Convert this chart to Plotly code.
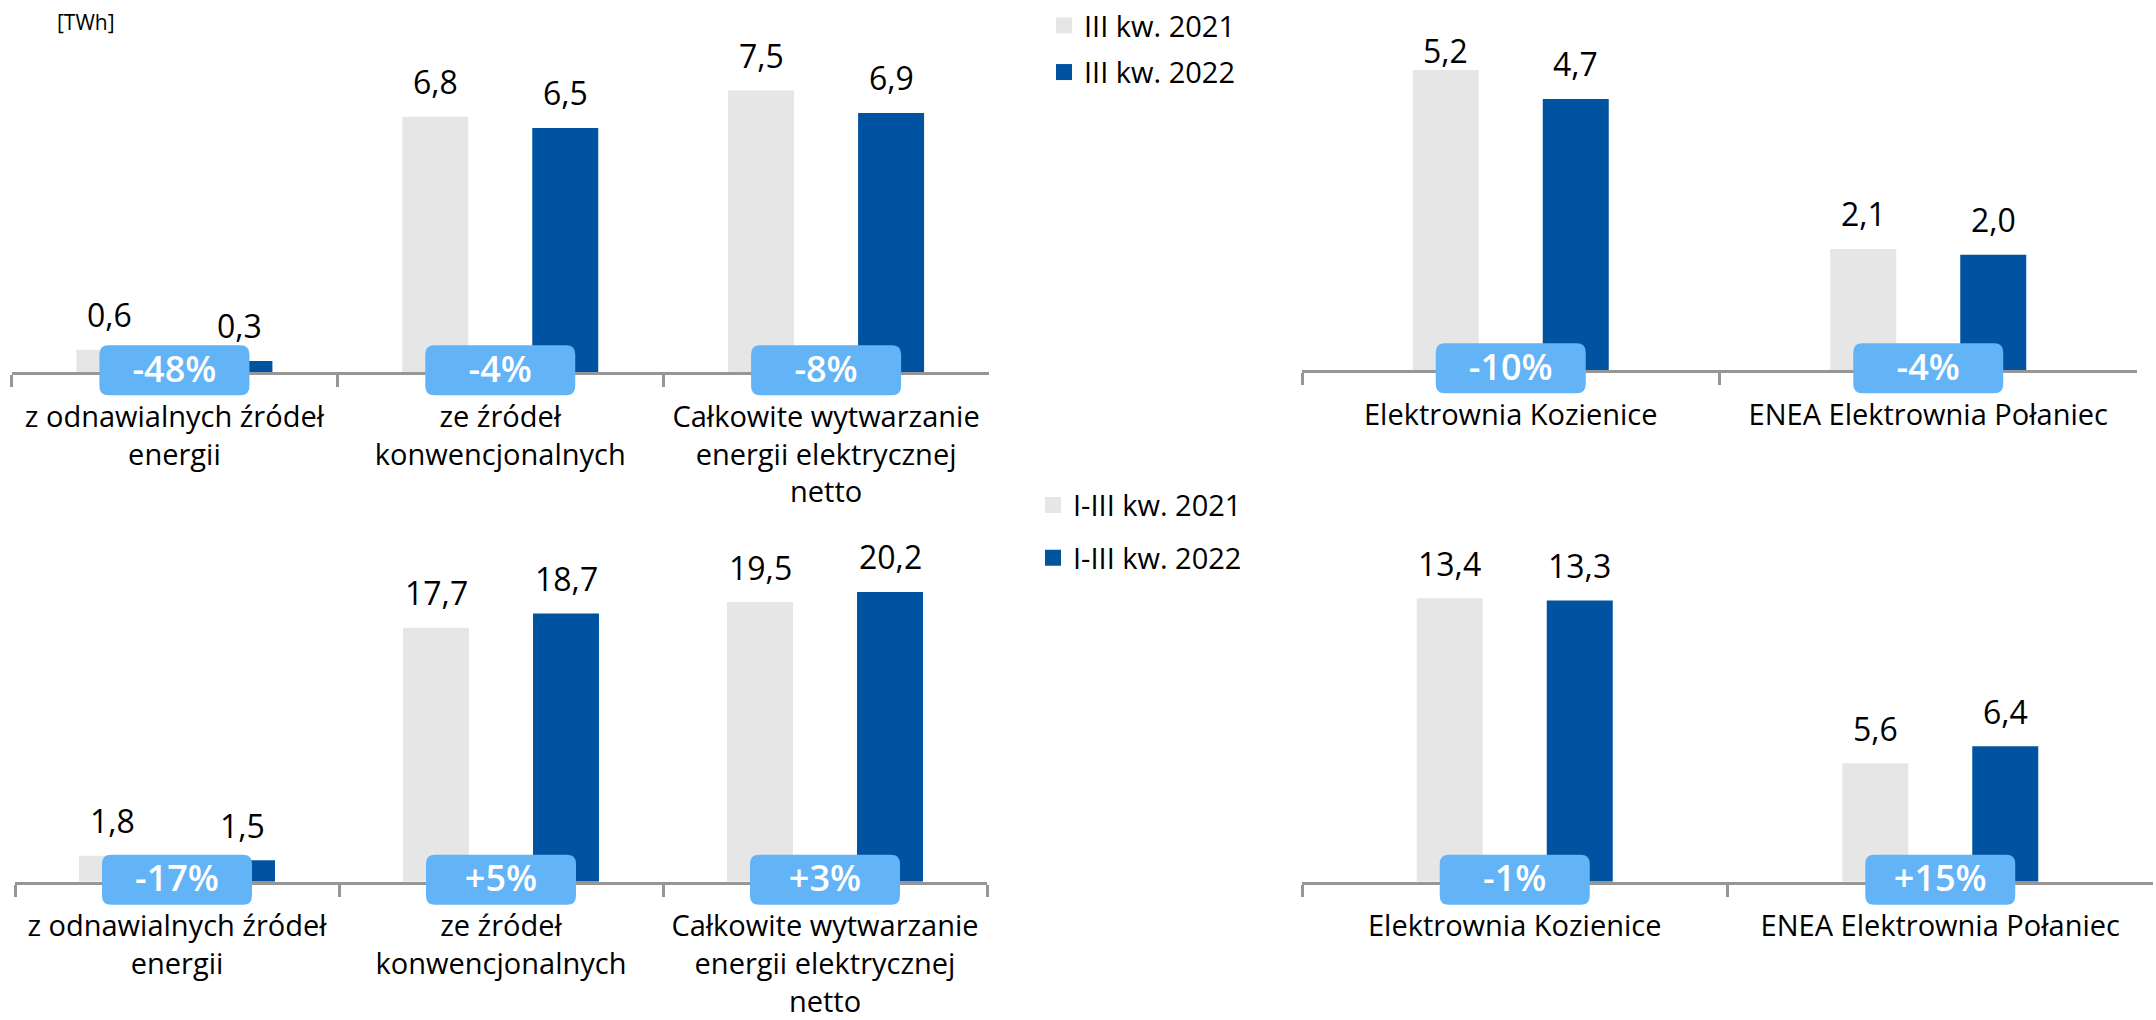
import plotly.graph_objects as go

# ------------------------------------------------------------------ data
cats_gen = [
    "z odnawialnych źródeł<br>energii",
    "ze źródeł<br>konwencjonalnych",
    "Całkowite wytwarzanie<br>energii elektrycznej<br>netto",
]
cats_plant = ["Elektrownia Kozienice", "ENEA Elektrownia Połaniec"]

q3_2021_gen = [0.6, 6.8, 7.5]
q3_2022_gen = [0.3, 6.5, 6.9]
q3_change_gen = ["-48%", "-4%", "-8%"]

q3_2021_plant = [5.2, 2.1]
q3_2022_plant = [4.7, 2.0]
q3_change_plant = ["-10%", "-4%"]

ytd_2021_gen = [1.8, 17.7, 19.5]
ytd_2022_gen = [1.5, 18.7, 20.2]
ytd_change_gen = ["-17%", "+5%", "+3%"]

ytd_2021_plant = [13.4, 5.6]
ytd_2022_plant = [13.3, 6.4]
ytd_change_plant = ["-1%", "+15%"]

names_q3 = ["III kw. 2021", "III kw. 2022"]
names_ytd = ["I-III kw. 2021", "I-III kw. 2022"]
unit_label = "[TWh]"

# ------------------------------------------------------------------ style
W, H = 2156, 1020
FONT = "Open Sans"
C_LIGHT = "#E6E6E6"
C_DARK = "#0053A0"
C_BOX = "#63B3F7"
C_AXIS = "#969696"
BAR_PX = 66          # bar width in pixels
HALF_GAP_PX = 32     # half of the gap between the two bars of a category
LABEL_RISE_PX = 35   # distance bar top -> centre of value label
BOX_W, BOX_H, BOX_R = 150, 50, 9

panels = [
    dict(ax="", cats=cats_gen, a=q3_2021_gen, b=q3_2022_gen, chg=q3_change_gen,
         names=names_q3, legend="legend", x0=11.5, x1=989, base=374, top=0,
         ppu=37.75, label_min=51),
    dict(ax="2", cats=cats_plant, a=q3_2021_plant, b=q3_2022_plant, chg=q3_change_plant,
         names=None, legend="legend", x0=1302, x1=2137, base=372, top=0,
         ppu=58.0, label_min=51),
    dict(ax="3", cats=cats_gen, a=ytd_2021_gen, b=ytd_2022_gen, chg=ytd_change_gen,
         names=names_ytd, legend="legend2", x0=15, x1=987, base=886, top=500,
         ppu=14.41, label_min=551),
    dict(ax="4", cats=cats_plant, a=ytd_2021_plant, b=ytd_2022_plant, chg=ytd_change_plant,
         names=None, legend="legend2", x0=1302, x1=2153, base=886, top=500,
         ppu=21.25, label_min=551),
]


def fmt(v):
    return f"{v:.1f}".replace(".", ",")


def rrect(w, h, r, dy=0):
    hw, hh = w / 2, h / 2
    y0, y1 = -hh + dy, hh + dy
    return (f"M{-hw + r},{y0} L{hw - r},{y0} Q{hw},{y0} {hw},{y0 + r} "
            f"L{hw},{y1 - r} Q{hw},{y1} {hw - r},{y1} L{-hw + r},{y1} "
            f"Q{-hw},{y1} {-hw},{y1 - r} L{-hw},{y0 + r} Q{-hw},{y0} {-hw + r},{y0} Z")


fig = go.Figure()
layout = {}
annotations = []
shapes = []

for p in panels:
    ax = p["ax"]
    xr, yr = "x" + ax, "y" + ax
    n = len(p["cats"])
    catpx = (p["x1"] - p["x0"]) / n
    bw = BAR_PX / catpx
    gap = HALF_GAP_PX / catpx

    for vals, col, off, sign in ((p["a"], C_LIGHT, -gap - bw, -1), (p["b"], C_DARK, gap, 1)):
        fig.add_trace(go.Bar(
            x=p["cats"], y=vals, xaxis=xr, yaxis=yr, width=bw, offset=off,
            marker=dict(color=col, line=dict(width=0)), showlegend=False,
            hovertemplate="%{y}<extra></extra>"))
        for i, v in enumerate(vals):
            top_px = p["base"] - v * p["ppu"]
            center_px = max(top_px - LABEL_RISE_PX, p["label_min"])
            annotations.append(dict(
                x=i + sign * (gap + bw / 2), y=v, xref=xr, yref=yr, text=fmt(v),
                showarrow=False, xanchor="center", yanchor="middle",
                yshift=top_px - center_px,
                font=dict(family=FONT, size=32, color="black")))

    if p["names"]:
        for nm, col in zip(p["names"], (C_LIGHT, C_DARK)):
            fig.add_trace(go.Scatter(
                x=[None], y=[None], xaxis=xr, yaxis=yr, mode="markers", name=nm,
                legend=p["legend"], legendgroup=nm,
                marker=dict(symbol="square", size=18, color=col)))

    base_paper = 1 - p["base"] / H
    for i, t in enumerate(p["chg"]):
        shapes.append(dict(
            type="path", xref=xr, yref="paper", xsizemode="pixel", ysizemode="pixel",
            xanchor=i, yanchor=base_paper, path=rrect(BOX_W, BOX_H, BOX_R, 2),
            fillcolor=C_BOX, line=dict(width=0), layer="above",
            label=dict(text=t, textposition="middle center",
                       font=dict(family=FONT, size=36, color="white", weight=600))))

    layout["xaxis" + ax] = dict(
        domain=[p["x0"] / W, p["x1"] / W], anchor=yr, type="category",
        range=[-0.5, n - 0.5], showline=True, linecolor=C_AXIS, linewidth=3,
        ticks="outside", tickson="boundaries", ticklen=12, tickwidth=2.5,
        tickcolor=C_AXIS, showgrid=False, zeroline=False, fixedrange=True,
        tickfont=dict(family=FONT, size=29, color="black"), ticklabelstandoff=17)
    layout["yaxis" + ax] = dict(
        domain=[1 - p["base"] / H, 1 - p["top"] / H], anchor=xr,
        range=[0, (p["base"] - p["top"]) / p["ppu"]], visible=False, fixedrange=True)

annotations.append(dict(
    x=86 / W, y=1 - 22 / H, xref="paper", yref="paper", text=unit_label,
    showarrow=False, xanchor="center", yanchor="middle",
    font=dict(family=FONT, size=21, color="black")))

legend_common = dict(xanchor="left", yanchor="top", bgcolor="rgba(0,0,0,0)",
                     font=dict(family=FONT, size=29, color="black"),
                     itemclick=False, itemdoubleclick=False, traceorder="grouped")

fig.update_layout(
    width=W, height=H, margin=dict(l=0, r=0, t=0, b=0),
    paper_bgcolor="white", plot_bgcolor="white",
    barmode="overlay", hovermode="closest",
    annotations=annotations, shapes=shapes,
    legend=dict(x=1044 / W, y=1, tracegroupgap=6, **legend_common),
    legend2=dict(x=1033 / W, y=1 - 482 / H, tracegroupgap=12, **legend_common),
    **layout)

fig.write_html("out.html", config={"displayModeBar": False},
               post_script="document.body.style.margin='0px';"
                           "document.body.style.overflow='hidden';")
